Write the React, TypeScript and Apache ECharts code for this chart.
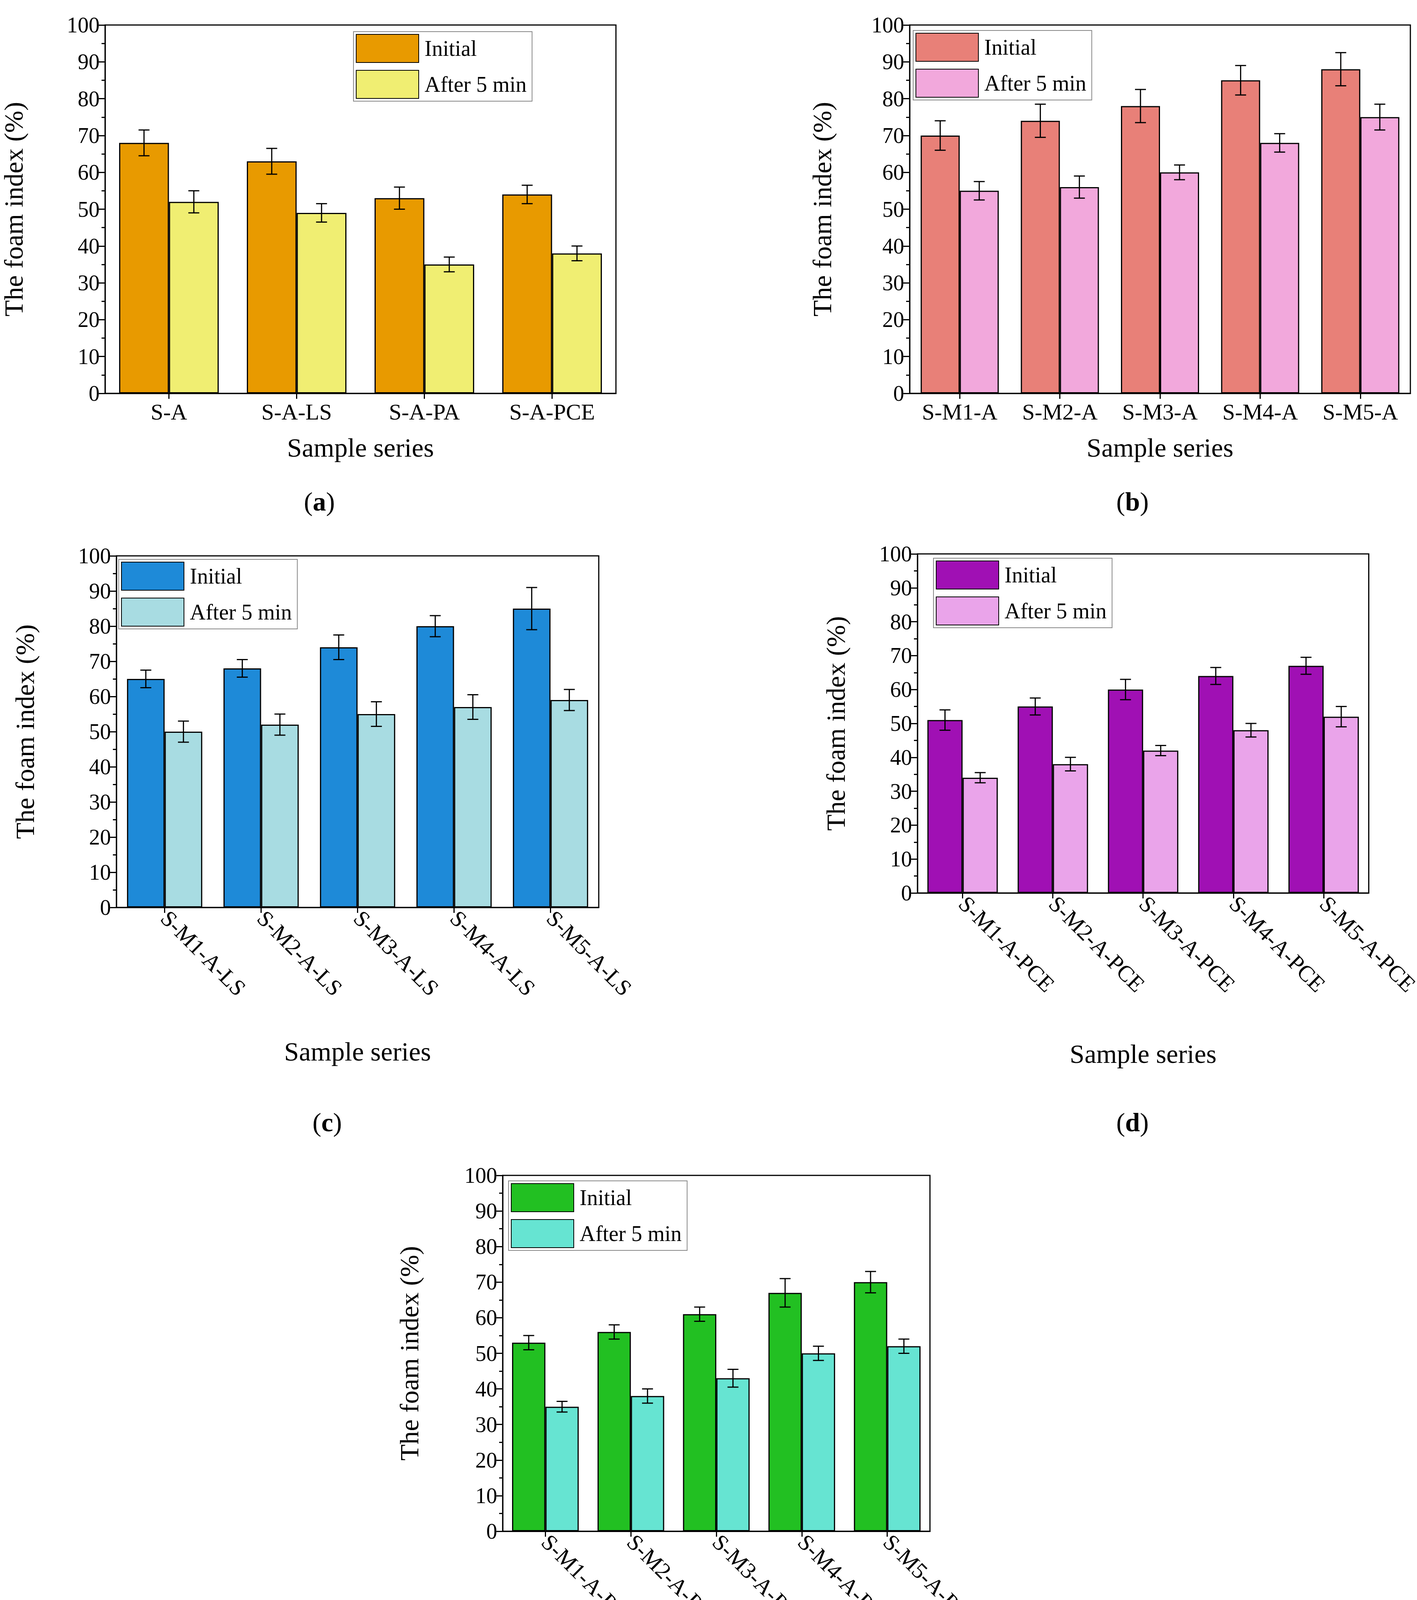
import React, { useEffect, useRef } from 'react';
import * as echarts from 'echarts';

const catsA = ['S-A', 'S-A-LS', 'S-A-PA', 'S-A-PCE'];
const initA = [68, 63, 53, 54];
const initErrA = [3.5, 3.5, 3, 2.5];
const afterA = [52, 49, 35, 38];
const afterErrA = [3, 2.5, 2, 2];

const catsB = ['S-M1-A', 'S-M2-A', 'S-M3-A', 'S-M4-A', 'S-M5-A'];
const initB = [70, 74, 78, 85, 88];
const initErrB = [4, 4.5, 4.5, 4, 4.5];
const afterB = [55, 56, 60, 68, 75];
const afterErrB = [2.5, 3, 2, 2.5, 3.5];

const catsC = ['S-M1-A-LS', 'S-M2-A-LS', 'S-M3-A-LS', 'S-M4-A-LS', 'S-M5-A-LS'];
const initC = [65, 68, 74, 80, 85];
const initErrC = [2.5, 2.5, 3.5, 3, 6];
const afterC = [50, 52, 55, 57, 59];
const afterErrC = [3, 3, 3.5, 3.5, 3];

const catsD = ['S-M1-A-PCE', 'S-M2-A-PCE', 'S-M3-A-PCE', 'S-M4-A-PCE', 'S-M5-A-PCE'];
const initD = [51, 55, 60, 64, 67];
const initErrD = [3, 2.5, 3, 2.5, 2.5];
const afterD = [34, 38, 42, 48, 52];
const afterErrD = [1.5, 2, 1.5, 2, 3];

const catsE = ['S-M1-A-PA', 'S-M2-A-PA', 'S-M3-A-PA', 'S-M4-A-PA', 'S-M5-A-PA'];
const initE = [53, 56, 61, 67, 70];
const initErrE = [2, 2, 2, 4, 3];
const afterE = [35, 38, 43, 50, 52];
const afterErrE = [1.5, 2, 2.5, 2, 2];

const FONT = 'Liberation Serif';

const panels = [
  { cats: catsA, init: initA, ie: initErrA, after: afterA, ae: afterErrA, c1: '#E89A00', c2: '#F0EE72',
    grid: { left: 266, top: 64, width: 1311, height: 943 }, legend: { left: 905, top: 81 }, rot: 0, xGap: 105, yGap: 200, label: 'a', lx: 778, ly: 1290 },
  { cats: catsB, init: initB, ie: initErrB, after: afterB, ae: afterErrB, c1: '#E88078', c2: '#F2A8DC',
    grid: { left: 2329, top: 64, width: 1282, height: 943 }, legend: { left: 2338, top: 78 }, rot: 0, xGap: 105, yGap: 190, label: 'b', lx: 2858, ly: 1290 },
  { cats: catsC, init: initC, ie: initErrC, after: afterC, ae: afterErrC, c1: '#1E8AD8', c2: '#A8DCE2',
    grid: { left: 298, top: 1423, width: 1235, height: 900 }, legend: { left: 304, top: 1432 }, rot: -45, xGap: 335, yGap: 200, label: 'c', lx: 800, ly: 2879 },
  { cats: catsD, init: initD, ie: initErrD, after: afterD, ae: afterErrD, c1: '#A010B4', c2: '#EAA4EA',
    grid: { left: 2349, top: 1418, width: 1247, height: 868 }, legend: { left: 2390, top: 1429 }, rot: -45, xGap: 378, yGap: 175, label: 'd', lx: 2858, ly: 2879 },
  { cats: catsE, init: initE, ie: initErrE, after: afterE, ae: afterErrE, c1: '#22C022', c2: '#66E4D2',
    grid: { left: 1287, top: 3009, width: 1094, height: 911 }, legend: { left: 1302, top: 3023 }, rot: -45, xGap: 350, yGap: 205, label: 'e', lx: 1814, ly: 4475 },
];

const CAT_GAP = 0.22;

function errSeries(gi: number, vals: number[], errs: number[], sign: number) {
  return {
    type: 'custom',
    xAxisIndex: gi,
    yAxisIndex: gi,
    silent: true,
    z: 10,
    data: vals.map((v, i) => [i, v, errs[i]]),
    renderItem: (params: any, api: any) => {
      const i = api.value(0);
      const v = api.value(1);
      const e = api.value(2);
      const band = api.size([1, 0])[0];
      const bw = (band * (1 - CAT_GAP)) / 2;
      const c = api.coord([i, v]);
      const x = c[0] + sign * bw / 2;
      const top = api.coord([i, v + e])[1];
      const bot = api.coord([i, v - e])[1];
      const cap = 14;
      const st = { stroke: '#000', lineWidth: 3 };
      return {
        type: 'group',
        children: [
          { type: 'line', shape: { x1: x, y1: top, x2: x, y2: bot }, style: st },
          { type: 'line', shape: { x1: x - cap, y1: top, x2: x + cap, y2: top }, style: st },
          { type: 'line', shape: { x1: x - cap, y1: bot, x2: x + cap, y2: bot }, style: st },
        ],
      };
    },
  };
}

export default function App() {
  const ref = useRef<HTMLDivElement>(null);
  useEffect(() => {
    if (!ref.current) return;
    const chart = echarts.init(ref.current, null, { renderer: 'svg' });
    const grids: any[] = [];
    const xAxes: any[] = [];
    const yAxes: any[] = [];
    const legends: any[] = [];
    const series: any[] = [];
    const graphics: any[] = [];
    panels.forEach((p, gi) => {
      grids.push({ ...p.grid, show: true, borderColor: '#000', borderWidth: 3, backgroundColor: 'transparent' });
      xAxes.push({
        type: 'category', gridIndex: gi, data: p.cats,
        name: 'Sample series', nameLocation: 'middle', nameGap: p.xGap,
        nameTextStyle: { fontFamily: FONT, fontSize: 68, color: '#000' },
        axisLine: { lineStyle: { color: '#000', width: 3 } },
        axisTick: { show: true, alignWithLabel: true, length: 14, lineStyle: { width: 3 } },
        axisLabel: { fontFamily: FONT, fontSize: 58, color: '#000', rotate: p.rot, margin: 18, interval: 0 },
      });
      yAxes.push({
        type: 'value', gridIndex: gi, min: 0, max: 100, interval: 10,
        name: 'The foam index (%)', nameLocation: 'middle', nameGap: p.yGap,
        nameTextStyle: { fontFamily: FONT, fontSize: 68, color: '#000' },
        axisLine: { show: true, lineStyle: { color: '#000', width: 3 } },
        axisTick: { show: true, length: 16, lineStyle: { width: 3 } },
        minorTick: { show: true, splitNumber: 2, length: 9, lineStyle: { color: '#000', width: 3 } },
        splitLine: { show: false },
        axisLabel: { fontFamily: FONT, fontSize: 56, color: '#000', margin: 14 },
      });
      const n1 = `Initial${'\u200b'.repeat(gi)}`;
      const n2 = `After 5 min${'\u200b'.repeat(gi)}`;
      legends.push({
        data: [n1, n2], orient: 'vertical', left: p.legend.left, top: p.legend.top,
        icon: 'rect', itemWidth: 160, itemHeight: 72, itemGap: 18, padding: [6, 14, 6, 6],
        borderColor: '#888', borderWidth: 2, backgroundColor: '#fff',
        textStyle: { fontFamily: FONT, fontSize: 56, color: '#000', padding: [0, 0, 0, 10] },
        formatter: (s: string) => s.replace(/\u200b/g, ''),
      });
      series.push({
        name: n1, type: 'bar', xAxisIndex: gi, yAxisIndex: gi, data: p.init,
        barGap: '0%', barCategoryGap: `${CAT_GAP * 100}%`,
        itemStyle: { color: p.c1, borderColor: '#000', borderWidth: 3 },
      });
      series.push({
        name: n2, type: 'bar', xAxisIndex: gi, yAxisIndex: gi, data: p.after,
        barGap: '0%', barCategoryGap: `${CAT_GAP * 100}%`,
        itemStyle: { color: p.c2, borderColor: '#000', borderWidth: 3 },
      });
      series.push(errSeries(gi, p.init, p.ie, -1));
      series.push(errSeries(gi, p.after, p.ae, 1));
      graphics.push({
        type: 'text', left: p.lx, top: p.ly - 40,
        style: {
          text: `(${'{b|' + p.label + '}'})`,
          rich: { b: { fontWeight: 'bold', fontFamily: FONT, fontSize: 68, fill: '#000' } },
          font: `68px "${FONT}"`, fill: '#000',
        },
      });
    });
    chart.setOption({
      animation: false,
      backgroundColor: '#fff',
      grid: grids, xAxis: xAxes, yAxis: yAxes, legend: legends, series, graphic: graphics,
    });
    return () => chart.dispose();
  }, []);
  return <div ref={ref} style={{ position: 'absolute', left: 0, top: 0, width: 3628, height: 4522 }} />;
}
